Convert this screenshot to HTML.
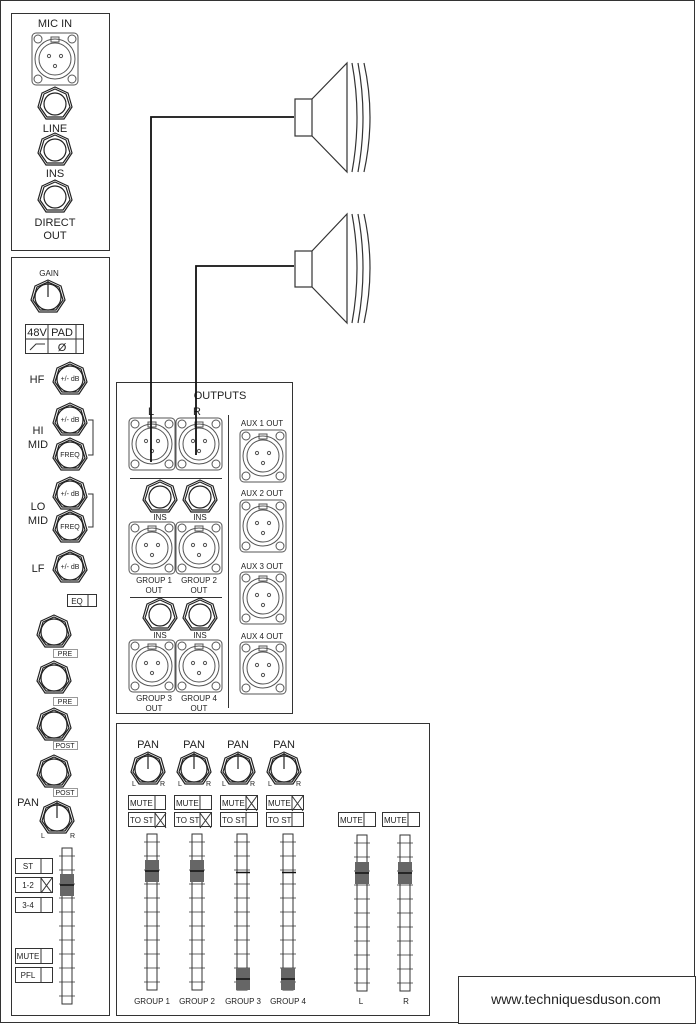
<!DOCTYPE html>
<html><head><meta charset="utf-8"><style>
html,body{margin:0;padding:0;background:#fff;}
svg{display:block;font-family:"Liberation Sans",sans-serif;}
text{fill:#222;}
</style></head><body>
<svg width="696" height="1024" viewBox="0 0 696 1024" xmlns="http://www.w3.org/2000/svg">
<defs>
<g id="xlr" fill="none" stroke="#555" stroke-width="1">
  <rect x="-23" y="-26" width="46" height="52" rx="4" fill="#fff"/>
  <circle cx="-17" cy="-20" r="4"/><circle cx="17" cy="-20" r="4"/>
  <circle cx="-17" cy="20" r="4"/><circle cx="17" cy="20" r="4"/>
  <circle cx="0" cy="0" r="20"/><circle cx="0" cy="0" r="16"/>
  <rect x="-4" y="-22" width="8" height="5"/>
  <circle cx="-6" cy="-3" r="1.6"/><circle cx="6" cy="-3" r="1.6"/><circle cx="0" cy="7" r="1.6"/>
</g>
<g id="jack" fill="none" stroke="#222" stroke-width="1.2">
  <polygon points="0,-17 13,-11 17,3 9,15 -9,15 -17,3 -13,-11"/>
  <polygon points="0,-15 11,-10 15,3 8,13 -8,13 -15,3 -11,-10"/>
  <circle cx="0" cy="0" r="11"/>
</g>
<g id="knob" fill="none" stroke="#222" stroke-width="1.2">
  <polygon points="0,-17 13,-11 17,3 9,15 -9,15 -17,3 -13,-11"/>
  <polygon points="0,-15 11,-10 15,3 8,13 -8,13 -15,3 -11,-10"/>
  <circle cx="0" cy="0" r="13" fill="#fff"/>
</g>
<g id="ptr"><line x1="0" y1="0" x2="0" y2="-16" stroke="#222" stroke-width="1.2"/></g>
<g id="fad" stroke="#333" stroke-width="1">
  <rect x="-5" y="0" width="10" height="156" fill="#fff"/>
  <path d="M-8 8h16M-8 22h16M-8 36h16M-8 50h16M-8 64h16M-8 78h16M-8 92h16M-8 106h16M-8 120h16M-8 134h16M-8 148h16" stroke-width="0.8"/>
</g>
<g id="cap"><rect x="-7" y="-11" width="14" height="22" fill="#666"/><line x1="-7" y1="0" x2="7" y2="0" stroke="#111" stroke-width="1.5"/></g>
<g id="xx" stroke="#333" stroke-width="1"><line x1="0" y1="0" x2="11" y2="15"/><line x1="11" y1="0" x2="0" y2="15"/></g>
</defs>

<rect x="0.5" y="0.5" width="694" height="1022" fill="#fff" stroke="#333"/>

<!-- panel 1 -->
<rect x="11.5" y="13.5" width="98" height="237" fill="none" stroke="#333"/>
<text x="55" y="27" font-size="11" text-anchor="middle">MIC IN</text>
<use href="#xlr" transform="translate(55,59)"/>
<use href="#jack" x="55" y="104"/>
<text x="55" y="132" font-size="11" text-anchor="middle">LINE</text>
<use href="#jack" x="55" y="150"/>
<text x="55" y="177" font-size="11" text-anchor="middle">INS</text>
<use href="#jack" x="55" y="197"/>
<text x="55" y="226" font-size="11" text-anchor="middle">DIRECT</text>
<text x="55" y="239" font-size="11" text-anchor="middle">OUT</text>

<!-- panel 2 -->
<rect x="11.5" y="257.5" width="98" height="758" fill="none" stroke="#333"/>
<text x="49" y="276" font-size="8" text-anchor="middle">GAIN</text>
<use href="#knob" x="48" y="297"/><use href="#ptr" x="48" y="297"/>
<g fill="none" stroke="#333"><rect x="25.5" y="324.5" width="58" height="29"/><line x1="48" y1="325" x2="48" y2="354"/><line x1="76" y1="325" x2="76" y2="354"/><line x1="25" y1="339" x2="84" y2="339"/>
<path d="M30 350 L36 344 H45"/></g>
<text x="37" y="336" font-size="11" text-anchor="middle">48V</text>
<text x="62" y="336" font-size="11" text-anchor="middle">PAD</text>
<text x="62" y="351" font-size="11" text-anchor="middle">Ø</text>
<text x="37" y="383" font-size="11" text-anchor="middle">HF</text>
<use href="#knob" x="70" y="379"/><text x="70" y="381" font-size="7" text-anchor="middle">+/- dB</text>
<use href="#knob" x="70" y="420"/><text x="70" y="422" font-size="7" text-anchor="middle">+/- dB</text>
<use href="#knob" x="70" y="455"/><text x="70" y="457" font-size="7" text-anchor="middle">FREQ</text>
<text x="38" y="434" font-size="11" text-anchor="middle">HI</text><text x="38" y="448" font-size="11" text-anchor="middle">MID</text>
<path d="M88 420 H93 V455 H88" fill="none" stroke="#333"/>
<use href="#knob" x="70" y="494"/><text x="70" y="496" font-size="7" text-anchor="middle">+/- dB</text>
<use href="#knob" x="70" y="527"/><text x="70" y="529" font-size="7" text-anchor="middle">FREQ</text>
<text x="38" y="510" font-size="11" text-anchor="middle">LO</text><text x="38" y="524" font-size="11" text-anchor="middle">MID</text>
<path d="M88 494 H93 V527 H88" fill="none" stroke="#333"/>
<text x="38" y="572" font-size="11" text-anchor="middle">LF</text>
<use href="#knob" x="70" y="567"/><text x="70" y="569" font-size="7" text-anchor="middle">+/- dB</text>
<g fill="none" stroke="#333"><rect x="67.5" y="594.5" width="29" height="12"/><line x1="88" y1="595" x2="88" y2="607"/></g>
<text x="77" y="604" font-size="8" text-anchor="middle">EQ</text>

<use href="#knob" x="54" y="632"/>
<rect x="53.5" y="649.5" width="24" height="8" fill="none" stroke="#999"/><text x="65" y="656" font-size="7" text-anchor="middle">PRE</text>
<use href="#knob" x="54" y="678"/>
<rect x="53.5" y="697.5" width="24" height="8" fill="none" stroke="#999"/><text x="65" y="704" font-size="7" text-anchor="middle">PRE</text>
<use href="#knob" x="54" y="725"/>
<rect x="53.5" y="741.5" width="24" height="8" fill="none" stroke="#999"/><text x="65" y="748" font-size="7" text-anchor="middle">POST</text>
<use href="#knob" x="54" y="772"/>
<rect x="53.5" y="788.5" width="24" height="8" fill="none" stroke="#999"/><text x="65" y="795" font-size="7" text-anchor="middle">POST</text>
<text x="28" y="806" font-size="11" text-anchor="middle">PAN</text>
<use href="#knob" x="57" y="818"/><use href="#ptr" x="57" y="818"/>
<text x="41" y="838" font-size="7">L</text><text x="70" y="838" font-size="7">R</text>
<use href="#fad" x="67" y="848"/>
<use href="#cap" x="67" y="885"/>
<g fill="none" stroke="#333">
<rect x="15.5" y="858.5" width="37" height="15"/><line x1="41" y1="859" x2="41" y2="874"/>
<rect x="15.5" y="877.5" width="37" height="15"/><line x1="41" y1="878" x2="41" y2="893"/>
<rect x="15.5" y="897.5" width="37" height="15"/><line x1="41" y1="898" x2="41" y2="913"/>
<rect x="15.5" y="948.5" width="37" height="15"/><line x1="41" y1="949" x2="41" y2="964"/>
<rect x="15.5" y="967.5" width="37" height="15"/><line x1="41" y1="968" x2="41" y2="983"/>
</g>
<use href="#xx" x="41" y="878"/>
<text x="28" y="869" font-size="8" text-anchor="middle">ST</text>
<text x="28" y="888" font-size="8" text-anchor="middle">1-2</text>
<text x="28" y="908" font-size="8" text-anchor="middle">3-4</text>
<text x="28" y="959" font-size="8" text-anchor="middle">MUTE</text>
<text x="28" y="978" font-size="8" text-anchor="middle">PFL</text>

<!-- outputs -->
<rect x="116.5" y="382.5" width="176" height="331" fill="none" stroke="#333"/>
<text x="220" y="399" font-size="11" text-anchor="middle">OUTPUTS</text>
<text x="151" y="415" font-size="11" text-anchor="middle">L</text>
<text x="197" y="415" font-size="11" text-anchor="middle">R</text>
<use href="#xlr" x="152" y="444"/><use href="#xlr" x="199" y="444"/>
<line x1="130" y1="478.5" x2="222" y2="478.5" stroke="#333"/>
<line x1="228.5" y1="415" x2="228.5" y2="708" stroke="#333"/>
<use href="#jack" x="160" y="497"/><use href="#jack" x="200" y="497"/>
<text x="160" y="520" font-size="8" text-anchor="middle">INS</text><text x="200" y="520" font-size="8" text-anchor="middle">INS</text>
<use href="#xlr" x="152" y="548"/><use href="#xlr" x="199" y="548"/>
<text x="154" y="583" font-size="8" text-anchor="middle">GROUP 1</text><text x="154" y="593" font-size="8" text-anchor="middle">OUT</text>
<text x="199" y="583" font-size="8" text-anchor="middle">GROUP 2</text><text x="199" y="593" font-size="8" text-anchor="middle">OUT</text>
<line x1="130" y1="597.5" x2="222" y2="597.5" stroke="#333"/>
<use href="#jack" x="160" y="615"/><use href="#jack" x="200" y="615"/>
<text x="160" y="638" font-size="8" text-anchor="middle">INS</text><text x="200" y="638" font-size="8" text-anchor="middle">INS</text>
<use href="#xlr" x="152" y="666"/><use href="#xlr" x="199" y="666"/>
<text x="154" y="701" font-size="8" text-anchor="middle">GROUP 3</text><text x="154" y="711" font-size="8" text-anchor="middle">OUT</text>
<text x="199" y="701" font-size="8" text-anchor="middle">GROUP 4</text><text x="199" y="711" font-size="8" text-anchor="middle">OUT</text>
<text x="262" y="426" font-size="8" text-anchor="middle">AUX 1 OUT</text><use href="#xlr" x="263" y="456"/>
<text x="262" y="496" font-size="8" text-anchor="middle">AUX 2 OUT</text><use href="#xlr" x="263" y="526"/>
<text x="262" y="569" font-size="8" text-anchor="middle">AUX 3 OUT</text><use href="#xlr" x="263" y="598"/>
<text x="262" y="639" font-size="8" text-anchor="middle">AUX 4 OUT</text><use href="#xlr" x="263" y="668"/>

<!-- cables -->
<path d="M151 462 V117 H294" fill="none" stroke="#111" stroke-width="1.8"/>
<path d="M196 455 V266 H294" fill="none" stroke="#111" stroke-width="1.8"/>

<!-- speakers -->
<g fill="none" stroke="#333" stroke-width="1.2">
<rect x="295" y="99" width="17" height="37"/>
<path d="M312 99 L347 63 V172 L312 136"/>
<path d="M352 63 Q362 117 352 172 M358 63 Q368 117 358 172 M364 63 Q376 117 364 172"/>
<rect x="295" y="251" width="17" height="36"/>
<path d="M312 251 L347 214 V323 L312 287"/>
<path d="M352 214 Q362 268 352 323 M358 214 Q368 268 358 323 M364 214 Q376 268 364 323"/>
</g>

<!-- bottom panel -->
<rect x="116.5" y="723.5" width="313" height="292" fill="none" stroke="#333"/>
<g font-size="11" text-anchor="middle">
<text x="148" y="748">PAN</text><text x="194" y="748">PAN</text><text x="238" y="748">PAN</text><text x="284" y="748">PAN</text>
</g>
<use href="#knob" x="148" y="769"/><use href="#ptr" x="148" y="769"/>
<use href="#knob" x="194" y="769"/><use href="#ptr" x="194" y="769"/>
<use href="#knob" x="238" y="769"/><use href="#ptr" x="238" y="769"/>
<use href="#knob" x="284" y="769"/><use href="#ptr" x="284" y="769"/>
<g font-size="7">
<text x="132" y="786">L</text><text x="160" y="786">R</text>
<text x="178" y="786">L</text><text x="206" y="786">R</text>
<text x="222" y="786">L</text><text x="250" y="786">R</text>
<text x="268" y="786">L</text><text x="296" y="786">R</text>
</g>
<g fill="none" stroke="#333">
<rect x="128.5" y="795.5" width="37" height="14"/><line x1="155" y1="796" x2="155" y2="810"/>
<rect x="128.5" y="812.5" width="37" height="14"/><line x1="155" y1="813" x2="155" y2="827"/>
<rect x="174.5" y="795.5" width="37" height="14"/><line x1="200" y1="796" x2="200" y2="810"/>
<rect x="174.5" y="812.5" width="37" height="14"/><line x1="200" y1="813" x2="200" y2="827"/>
<rect x="220.5" y="795.5" width="37" height="14"/><line x1="246" y1="796" x2="246" y2="810"/>
<rect x="220.5" y="812.5" width="37" height="14"/><line x1="246" y1="813" x2="246" y2="827"/>
<rect x="266.5" y="795.5" width="37" height="14"/><line x1="292" y1="796" x2="292" y2="810"/>
<rect x="266.5" y="812.5" width="37" height="14"/><line x1="292" y1="813" x2="292" y2="827"/>
<rect x="338.5" y="812.5" width="37" height="14"/><line x1="364" y1="813" x2="364" y2="827"/>
<rect x="382.5" y="812.5" width="37" height="14"/><line x1="408" y1="813" x2="408" y2="827"/>
</g>
<use href="#xx" x="155" y="813"/><use href="#xx" x="200" y="813"/>
<use href="#xx" x="246" y="796"/><use href="#xx" x="292" y="796"/>
<g font-size="8">
<text x="130" y="806">MUTE</text><text x="130" y="823">TO ST</text>
<text x="176" y="806">MUTE</text><text x="176" y="823">TO ST</text>
<text x="222" y="806">MUTE</text><text x="222" y="823">TO ST</text>
<text x="268" y="806">MUTE</text><text x="268" y="823">TO ST</text>
<text x="340" y="823">MUTE</text><text x="384" y="823">MUTE</text>
</g>
<use href="#fad" x="152" y="834"/><use href="#fad" x="197" y="834"/>
<use href="#fad" x="242" y="834"/><use href="#fad" x="288" y="834"/>
<use href="#fad" x="362" y="835"/><use href="#fad" x="405" y="835"/>
<use href="#cap" x="152" y="871"/><use href="#cap" x="197" y="871"/>
<line x1="236" y1="872.5" x2="250" y2="872.5" stroke="#111" stroke-width="1.5"/>
<line x1="282" y1="872.5" x2="296" y2="872.5" stroke="#111" stroke-width="1.5"/>
<use href="#cap" x="243" y="979"/><use href="#cap" x="288" y="979"/>
<use href="#cap" x="362" y="873"/><use href="#cap" x="405" y="873"/>
<g font-size="8" text-anchor="middle">
<text x="152" y="1004">GROUP 1</text><text x="197" y="1004">GROUP 2</text>
<text x="243" y="1004">GROUP 3</text><text x="288" y="1004">GROUP 4</text>
<text x="361" y="1004">L</text><text x="406" y="1004">R</text>
</g>

<rect x="458.5" y="976.5" width="237" height="47" fill="#fff" stroke="#333"/>
<text x="576" y="1004" font-size="14" text-anchor="middle">www.techniquesduson.com</text>
</svg>
</body></html>
